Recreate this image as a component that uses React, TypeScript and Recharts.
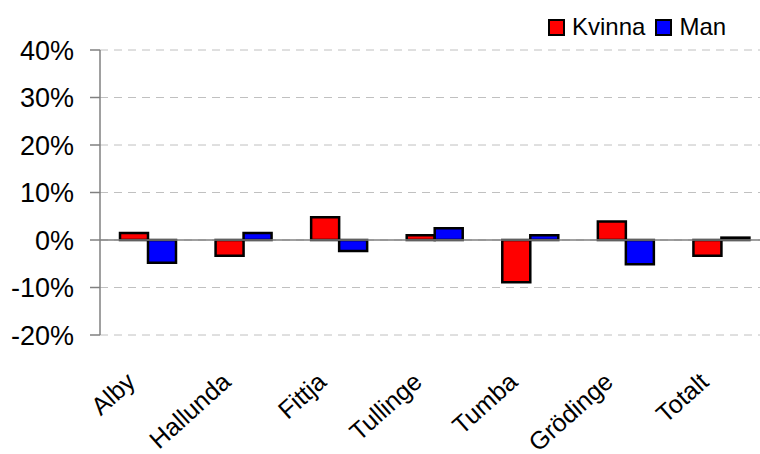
import React from "react";
import {
  BarChart,
  Bar,
  XAxis,
  YAxis,
  CartesianGrid,
  ReferenceLine,
} from "recharts";

const areas = ["Alby", "Hallunda", "Fittja", "Tullinge", "Tumba", "Grödinge", "Totalt"];
const kvinna = [1.5, -3.3, 4.8, 1.0, -8.9, 3.9, -3.3];
const man = [-4.8, 1.5, -2.3, 2.5, 1.0, -5.1, 0.5];
const yTicks = [-20, -10, 0, 10, 20, 30, 40];

const data = areas.map((name, i) => ({ name, Kvinna: kvinna[i], Man: man[i] }));

const font = "'Liberation Sans', Arial, sans-serif";

function AreaTick(props: any) {
  const { x, y, payload } = props;
  const tx = x - 11;
  const ty = y + 49;
  return (
    <text
      x={tx}
      y={ty}
      transform={`rotate(-42, ${tx}, ${ty})`}
      textAnchor="end"
      fontSize={25}
      fontFamily={font}
      fill="#000"
    >
      {payload.value}
    </text>
  );
}

function LegendBox() {
  const items = [
    { label: "Kvinna", color: "#ff0000" },
    { label: "Man", color: "#0000ff" },
  ];
  return (
    <div
      style={{
        position: "absolute",
        left: 548,
        top: 13,
        display: "flex",
        alignItems: "center",
        fontFamily: font,
        fontSize: 24,
        lineHeight: "28px",
      }}
    >
      {items.map((it) => (
        <div key={it.label} style={{ display: "flex", alignItems: "center", marginRight: 10 }}>
          <span
            style={{
              display: "inline-block",
              width: 13,
              height: 13,
              background: it.color,
              border: "2px solid #000",
              marginRight: 7,
            }}
          />
          <span>{it.label}</span>
        </div>
      ))}
    </div>
  );
}

export default function App() {
  return (
    <div
      style={{
        position: "fixed",
        left: 0,
        top: 0,
        width: 760,
        height: 454,
        overflow: "hidden",
        background: "#fff",
      }}
    >
      <BarChart
        width={780}
        height={454}
        data={data}
        margin={{ top: 50, right: 11, left: 10, bottom: 0 }}
        barSize={28}
        barGap={0}
      >
        <CartesianGrid
          vertical={false}
          stroke="#c0c0c0"
          strokeDasharray="8 6"
        />
        <XAxis
          dataKey="name"
          axisLine={false}
          tickLine={false}
          tickSize={0}
          tickMargin={0}
          height={119}
          interval={0}
          tick={<AreaTick />}
        />
        <YAxis
          domain={[-20, 40]}
          ticks={yTicks}
          width={90}
          tickFormatter={(v) => `${v}%`}
          axisLine={{ stroke: "#808080", strokeWidth: 1.5 }}
          tickLine={{ stroke: "#808080", strokeWidth: 1.5 }}
          tickSize={10}
          tickMargin={16}
          tick={{ fontSize: 27, fill: "#000", fontFamily: font }}
        />
        <ReferenceLine y={0} stroke="#808080" strokeWidth={1.5} />
        <Bar dataKey="Kvinna" fill="#ff0000" stroke="#000" strokeWidth={2.5} isAnimationActive={false} />
        <Bar dataKey="Man" fill="#0000ff" stroke="#000" strokeWidth={2.5} isAnimationActive={false} />
      </BarChart>
      <LegendBox />
    </div>
  );
}
